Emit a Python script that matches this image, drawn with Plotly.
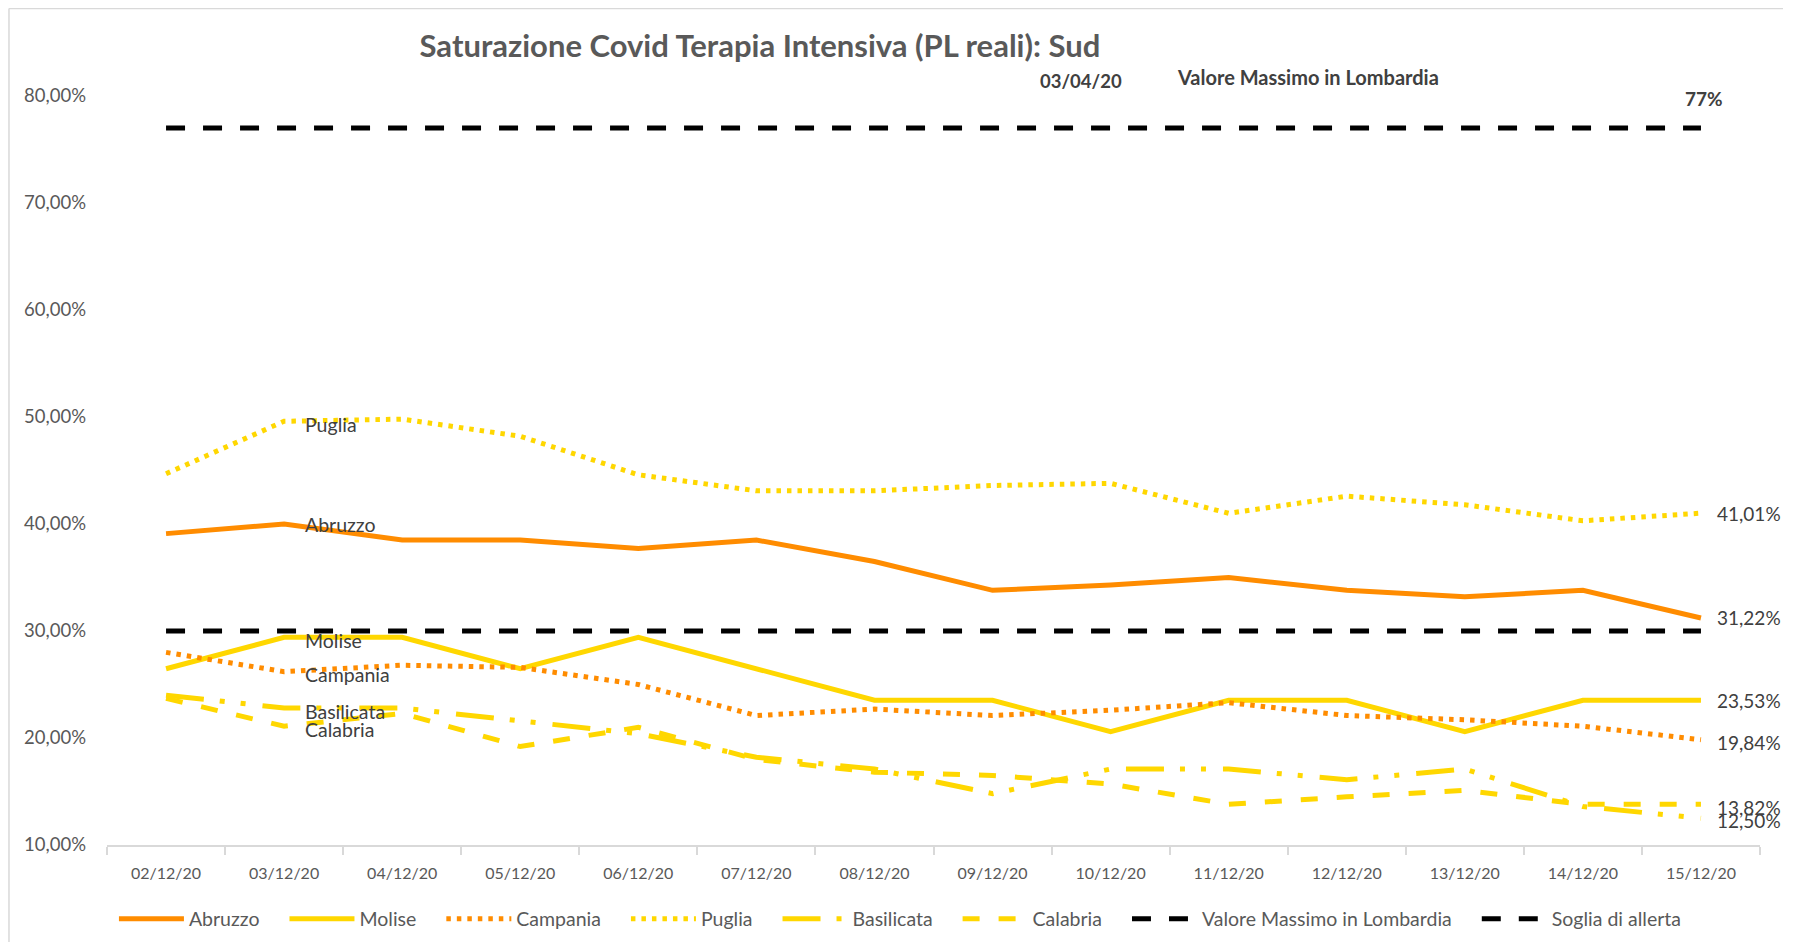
import plotly.graph_objects as go

dates = ["02/12/20", "03/12/20", "04/12/20", "05/12/20", "06/12/20", "07/12/20", "08/12/20",
         "09/12/20", "10/12/20", "11/12/20", "12/12/20", "13/12/20", "14/12/20", "15/12/20"]

abruzzo = [39.1, 40.0, 38.5, 38.5, 37.7, 38.5, 36.5, 33.8, 34.3, 35.0, 33.8, 33.2, 33.8, 31.22]
molise = [26.47, 29.41, 29.41, 26.47, 29.41, 26.47, 23.53, 23.53, 20.59, 23.53, 23.53, 20.59, 23.53, 23.53]
campania = [28.0, 26.2, 26.8, 26.6, 25.0, 22.1, 22.7, 22.1, 22.6, 23.3, 22.1, 21.7, 21.1, 19.84]
puglia = [44.7, 49.6, 49.8, 48.2, 44.6, 43.1, 43.1, 43.6, 43.8, 41.0, 42.6, 41.8, 40.3, 41.01]
basilicata = [24.0, 22.8, 22.8, 21.6, 20.4, 18.2, 17.1, 14.8, 17.1, 17.1, 16.1, 17.1, 13.6, 12.50]
calabria = [23.7, 21.1, 22.3, 19.2, 21.0, 18.0, 16.8, 16.5, 15.7, 13.8, 14.5, 15.1, 13.8, 13.82]
max_lombardia = [77.0] * 14
soglia = [30.0] * 14

y_tickvals = [10, 20, 30, 40, 50, 60, 70, 80]
y_ticktext = ["10,00%", "20,00%", "30,00%", "40,00%", "50,00%", "60,00%", "70,00%", "80,00%"]
right_labels = ["41,01%", "31,22%", "23,53%", "19,84%", "13,82%", "12,50%"]

ORANGE = "#FF8C00"
YELLOW = "#FFD700"
BLACK = "#000000"
GRAY = "#595959"
DARK = "#404040"
FONT = "Lato"
PAD = "\u00a0\u00a0\u00a0\u00a0"

series = [
    ("Abruzzo", abruzzo, ORANGE, "solid"),
    ("Molise", molise, YELLOW, "solid"),
    ("Campania", campania, ORANGE, "4.5px,6px"),
    ("Puglia", puglia, YELLOW, "4.5px,6px"),
    ("Basilicata", basilicata, YELLOW, "38px,16px,5px,16px,5px,17px"),
    ("Calabria", calabria, YELLOW, "17px,19px"),
    ("Valore Massimo in Lombardia", max_lombardia, BLACK, "19px,18px"),
    ("Soglia di allerta", soglia, BLACK, "19px,18px"),
]

fig = go.Figure()
for i, (name, vals, color, dash) in enumerate(series):
    fig.add_trace(go.Scatter(
        x=dates, y=vals, name=name + (PAD if i < len(series) - 1 else ""), mode="lines",
        line=dict(color=color, width=5, dash=dash),
    ))

annotations = []
name_labels = [("Puglia", puglia, -3), ("Abruzzo", abruzzo, 0), ("Molise", molise, -3),
               ("Campania", campania, -3), ("Basilicata", basilicata, -3), ("Calabria", calabria, -3)]
for name, vals, ys in name_labels:
    annotations.append(dict(
        x=dates[1], y=vals[1], xref="x", yref="y", text=name, showarrow=False,
        xanchor="left", yanchor="middle", xshift=19, yshift=ys,
        font=dict(family=FONT, size=19.5, color=DARK),
    ))

end_series = [puglia, abruzzo, molise, campania, calabria, basilicata]
end_shift = [0, 0, 0, -3, -3, -2]
for lab, vals, ys in zip(right_labels, end_series, end_shift):
    annotations.append(dict(
        x=dates[-1], y=vals[-1], xref="x", yref="y", text=lab, showarrow=False,
        xanchor="left", yanchor="middle", xshift=14, yshift=ys,
        font=dict(family=FONT, size=19, color=DARK),
    ))

annotations.append(dict(
    x=dates[-1], y=max_lombardia[-1], xref="x", yref="y", text="<b>77%</b>", showarrow=False,
    xanchor="center", yanchor="middle", xshift=3, yshift=30,
    font=dict(family=FONT, size=19, color=DARK),
))
annotations.append(dict(
    x=0.589, y=1.0196, xref="paper", yref="paper", text="<b>03/04/20</b>", showarrow=False,
    xanchor="center", yanchor="middle",
    font=dict(family=FONT, size=18.5, color=DARK),
))
annotations.append(dict(
    x=0.7265, y=1.025, xref="paper", yref="paper", text="<b>Valore Massimo in Lombardia</b>",
    showarrow=False, xanchor="center", yanchor="middle",
    font=dict(family=FONT, size=20, color=DARK),
))

shapes = [
    dict(type="line", xref="paper", yref="paper", x0=-0.0593, x1=-0.0593, y0=-0.2, y1=1.1168,
         line=dict(color="#D9D9D9", width=1.5)),
    dict(type="line", xref="paper", yref="paper", x0=-0.0593, x1=1.0139, y0=1.1168, y1=1.1168,
         line=dict(color="#D9D9D9", width=1.5)),
]

fig.update_layout(
    width=1781, height=934,
    margin=dict(l=99, r=29, t=88, b=97, autoexpand=False),
    paper_bgcolor="white", plot_bgcolor="white",
    title=dict(text="<b>Saturazione Covid Terapia Intensiva (PL reali): Sud</b>",
               x=0.4222, y=0.9593, xanchor="center", yanchor="middle",
               font=dict(family=FONT, size=31, color=GRAY)),
    xaxis=dict(type="category", range=[-0.5, 13.5], showgrid=False, showline=True,
               linecolor="#D9D9D9", linewidth=1.5, automargin=False,
               ticks="outside", tickson="boundaries", ticklen=8, tickcolor="#D9D9D9", tickwidth=1.5,
               ticklabelstandoff=13,
               tickfont=dict(family=FONT, size=16, color=GRAY)),
    yaxis=dict(range=[10, 80], tickvals=y_tickvals, ticktext=y_ticktext, automargin=False,
               showgrid=False, zeroline=False, showline=False,
               ticks="", ticklabelstandoff=20,
               tickfont=dict(family=FONT, size=18.5, color=GRAY)),
    legend=dict(orientation="h", x=0.48, xanchor="center", y=-0.0988, yanchor="middle",
                font=dict(family=FONT, size=19.5, color=GRAY), itemwidth=65,
                traceorder="normal"),
    annotations=annotations,
    shapes=shapes,
    showlegend=True,
)

fig.write_html("out.html")
